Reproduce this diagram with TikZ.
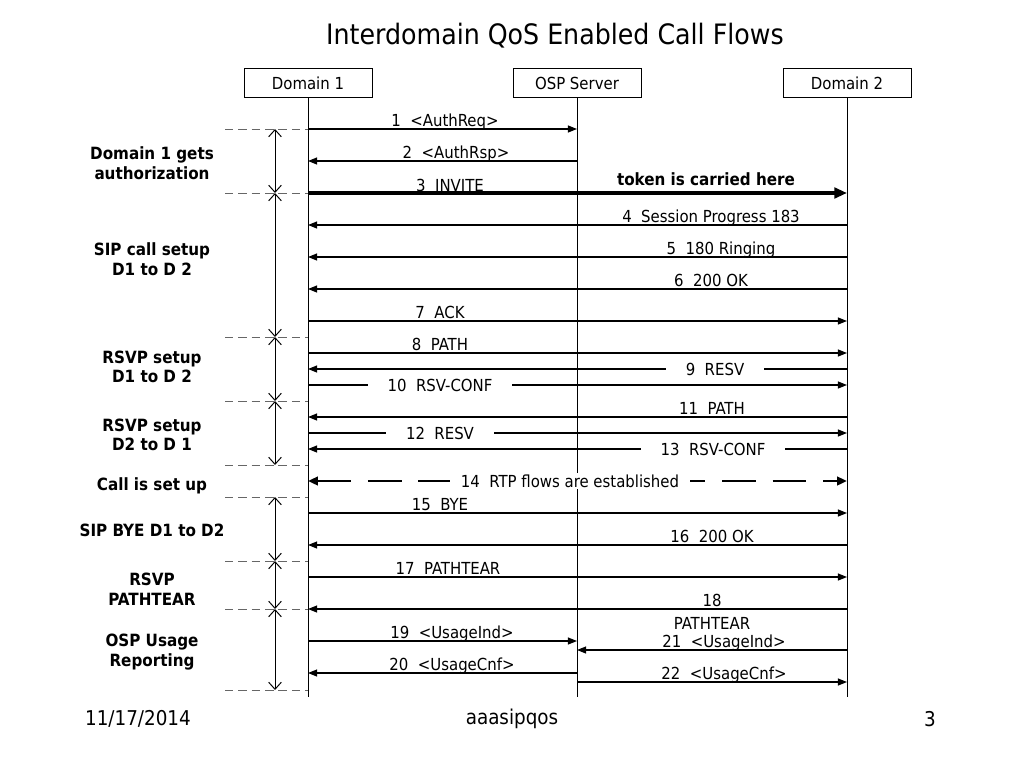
\documentclass[tikz,border=0pt]{standalone}
\usepackage{fontspec}
\setmainfont{DejaVu Sans Condensed}
\usetikzlibrary{arrows.meta,positioning}
\tikzset{
  lane/.style={draw,line width=0.6pt,minimum width=32mm,minimum height=7.25mm,inner sep=0pt,font=\fontsize{11.8}{13}\selectfont},
  msg/.style={line width=0.8pt,-{Triangle[length=6.5pt,width=5pt]}},
  lbl/.style={font=\fontsize{11.8}{13}\selectfont,inner sep=1.2pt},
  toplbl/.style={lbl,anchor=base,yshift=1.6pt},
  gaplbl/.style={lbl,fill=white,inner xsep=14pt},
  phase/.style={font=\bfseries\fontsize{12}{14}\selectfont,align=center},
  span/.style={line width=0.7pt,{Straight Barb[length=5pt,width=9pt]}-{Straight Barb[length=5pt,width=9pt]}},
  sep/.style={line width=0.6pt,gray!80!black,dash pattern=on 6pt off 3.5pt},
  foot/.style={font=\fontsize{14.5}{16}\selectfont}
}
\begin{document}
\begin{tikzpicture}[x=0.25mm,y=-0.25mm]
\useasboundingbox (0,0) rectangle (1024,768);
\node[font=\fontsize{20}{24}\selectfont] (title) at (555,36) {Interdomain QoS Enabled Call Flows};
% lanes
\node[lane] (d1) at (308,83) {Domain 1};
\node[lane] (osp) at (577,83) {OSP Server};
\node[lane] (d2) at (847,83) {Domain 2};
\foreach \n in {d1,osp,d2}
  \draw[line width=0.6pt] (\n.south) -- (\n.south |- 0,697);
% messages with label above
\foreach \y/\a/\b/\lx/\t in {
  129/d1/osp/445/1\ \ <AuthReq>,
  161/osp/d1/456/2\ \ <AuthRsp>,
  225/d2/d1/711/4\ \ Session Progress 183,
  257/d2/d1/721/5\ \ 180 Ringing,
  289/d2/d1/711/6\ \ 200 OK,
  321/d1/d2/440/7\ \ ACK,
  353/d1/d2/440/8\ \ PATH,
  417/d2/d1/712/11\ \ PATH,
  513/d1/d2/440/15\ \ BYE,
  545/d2/d1/712/16\ \ 200 OK,
  577/d1/d2/448/17\ \ PATHTEAR,
  641/d1/osp/452/19\ \ <UsageInd>,
  673/osp/d1/452/20\ \ <UsageCnf>,
  650/d2/osp/724/21\ \ <UsageInd>,
  682/osp/d2/724/22\ \ <UsageCnf>}{
  \draw[msg] (\a |- 0,\y) -- (\b |- 0,\y);
  \node[toplbl] at (\lx,\y) {\t};
}
% INVITE carries the token
\draw[line width=2.6pt,-{Triangle[length=9pt,width=7.5pt]}] (d1 |- 0,193) -- (d2 |- 0,193);
\node[lbl] at (450,185) {3\ \ INVITE};
\node[lbl,font=\bfseries\fontsize{12}{14}\selectfont] at (706,179) {token is carried here};
% messages with label on the line
\foreach \y/\a/\b/\lx/\t in {
  369/d2/d1/715/9\ \ RESV,
  385/d1/d2/440/10\ \ RSV-CONF,
  433/d1/d2/440/12\ \ RESV,
  449/d2/d1/713/13\ \ RSV-CONF}{
  \draw[msg] (\a |- 0,\y) -- (\b |- 0,\y);
  \node[gaplbl] at (\lx,\y) {\t};
}
\draw[line width=1.8pt,dash pattern=on 24pt off 12pt,{Triangle[length=7pt,width=6pt]}-{Triangle[length=7pt,width=6pt]}] (d1 |- 0,481) -- (d2 |- 0,481);
\node[lbl,fill=white,inner xsep=8pt] at (570,481) {14\ \ RTP flows are established};
\draw[msg] (d2 |- 0,609) -- (d1 |- 0,609);
\node[toplbl] at (712,609) {18};
\node[lbl] at (712,623) {PATHTEAR};
% phases
\foreach \y in {129,193,337,401,465,497,561,609,690}
  \draw[sep] (225,\y) -- (d1 |- 0,\y);
\foreach \ya/\yb in {129/193,193/337,337/401,401/465,497/561,561/609,609/690}
  \draw[span] (275,\ya) -- (275,\yb);
\node[phase] (p1) at (152,163) {Domain 1 gets\\authorization};
\node[phase] (p2) at (152,259) {SIP call setup\\D1 to D 2};
\node[phase] (p3) at (152,367) {RSVP setup\\D1 to D 2};
\node[phase] (p4) at (152,435) {RSVP setup\\D2 to D 1};
\node[phase] (p5) at (152,486) {Call is set up};
\node[phase] (p6) at (152,530) {SIP BYE D1 to D2};
\node[phase] (p7) at (152,589) {RSVP\\PATHTEAR};
\node[phase] (p8) at (152,652) {OSP Usage\\Reporting};
% footer
\node[foot] (date) at (138,719) {11/17/2014};
\node[foot] (doc) at (512,719) {aaasipqos};
\node[foot] (page) at (930,719) {3};
\end{tikzpicture}
\end{document}
